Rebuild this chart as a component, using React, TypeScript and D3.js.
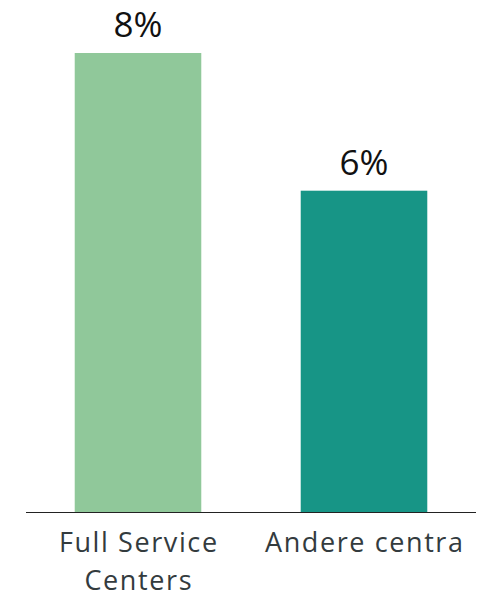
import React from "react";
import * as d3 from "d3";

const categories = ["Full Service Centers", "Andere centra"];
const categoryLines = [["Full Service", "Centers"], ["Andere centra"]];
const values = [8.0, 5.6];
const valueLabels = ["8%", "6%"];
const colors = ["#90c89a", "#179586"];

export default function App() {
  const width = 488;
  const height = 595;
  const baseline = 512;
  const top = 53;
  const x = d3.scaleBand<string>().domain(categories).range([25, 477]).paddingInner(0.44).paddingOuter(0.22);
  const y = d3.scaleLinear().domain([0, 8.0]).range([baseline, top]);
  const font = "'Open Sans', Lato, sans-serif";
  const ls = 1.6;
  return (
    <svg width={width} height={height} style={{ position: "absolute", left: 0, top: 0 }}>
      {categories.map((c, i) => {
        const bx = x(c)!;
        const bw = x.bandwidth();
        const cx = bx + bw / 2;
        return (
          <g key={c}>
            <rect x={bx} y={y(values[i])} width={bw} height={baseline - y(values[i])} fill={colors[i]} />
            <text x={cx} y={y(values[i]) - 16} textAnchor="middle" fontFamily={font} fontSize={35} fill="#111">
              {valueLabels[i]}
            </text>
            {categoryLines[i].map((l, j) => (
              <text key={j} x={cx + ls / 2} y={552 + j * 38} textAnchor="middle" fontFamily={font} fontSize={27} letterSpacing={ls} fill="#333b3e">
                {l}
              </text>
            ))}
          </g>
        );
      })}
      <line x1={26} x2={476} y1={baseline + 0.5} y2={baseline + 0.5} stroke="#222" strokeWidth={1.2} />
    </svg>
  );
}
